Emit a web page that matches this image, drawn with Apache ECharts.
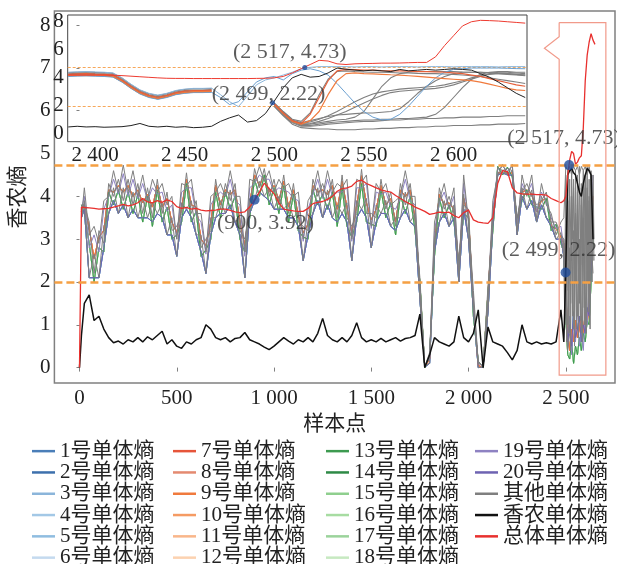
<!DOCTYPE html>
<html><head><meta charset="utf-8">
<script src="https://cdn.jsdelivr.net/npm/echarts@6/dist/echarts.min.js"></script>
<style>html,body{margin:0;padding:0;background:#fff}#c{width:617px;height:564px}</style>
</head><body><div id="c"></div>
<script>
// ---------------- main chart data ----------------
const mainX = [0,10,25,50,75,100,125,150,175,200,225,250,275,300,325,350,375,400,425,450,475,500,525,550,575,600,625,650,675,700,725,750,775,800,825,850,875,900,925,950,975,1000,1025,1050,1075,1100,1125,1150,1175,1200,1225,1250,1275,1300,1325,1350,1375,1400,1425,1450,1475,1500,1525,1550,1575,1600,1625,1650,1675,1700,1725,1750,1775,1800,1825,1850,1875,1900,1925,1950,1975,2000,2025,2050,2075,2100,2125,2150,2175,2200,2225,2250,2275,2300,2325,2350,2375,2400,2425,2450,2475,2490,2500,2510,2520,2530,2540,2550,2560,2570,2580,2590,2600,2610,2620,2630,2640,2650];

const bandGray1 = [null,
3.5,4.2,3.1,3.3,2.9,3.9,4.0,4.6,4.1,4.73,
4.1,4.6,4.0,4.5,3.9,4.4,4.1,4.3,3.8,4.0,
3.0,4.3,4.25,4.4,3.6,3.6,2.7,4.0,4.1,4.3,
4.0,4.6,4.0,4.0,2.7,4.4,4.35,4.7,4.35,4.6,
4.1,4.4,4.2,4.3,4.0,4.1,3.0,3.9,4.1,4.6,
4.0,4.6,4.1,4.3,4.2,4.4,3.0,4.4,4.33,4.5,
3.3,4.3,4.1,4.3,3.8,3.9,4.0,4.6,4.0,4.0,
1.8,0.05,0.2,3.4,3.9,4.3,3.7,4.2,2.2,4.5,
3.4,1.8,0.1,0.05,1.6,3.9,4.5,4.75,4.5,4.75,
3.2,4.5,4.0,4.5,3.5,4.3,3.8,3.6,3.1,3.4,
3.5,4.7,4.6,4.7,4.5,4.7,4.6,4.7,4.5,4.7,4.6,4.7,4.5,4.7,4.4,3.5,null];

const bandGray2 = [null,
3.8,3.8,3.4,2.2,3.2,2.9,4.3,4.0,4.4,3.9,
4.4,3.8,4.3,3.6,4.2,3.5,4.4,3.6,4.1,3.2,
3.3,3.6,4.55,3.6,3.9,2.8,3.0,3.2,4.4,3.7,
4.3,3.9,4.3,3.2,3.0,3.7,4.65,4.2,4.65,4.0,
4.4,3.8,4.5,3.6,4.3,3.4,3.3,3.2,4.4,4.0,
4.3,3.9,4.4,3.5,4.5,3.5,3.3,3.6,4.63,3.6,
3.6,3.5,4.4,3.7,4.1,3.3,4.3,3.8,4.3,3.4,
2.1,0.02,0.35,2.8,4.2,3.7,4.0,3.6,2.5,3.8,
3.7,1.4,0.15,0.02,1.9,3.4,4.68,4.6,4.65,4.6,
3.5,4.1,4.3,4.0,3.8,3.9,4.1,3.4,3.4,3.1,
3.0,2.0,1.0,4.0,2.5,4.4,2.0,3.8,1.5,4.2,2.8,4.5,2.0,4.0,3.0,2.2,null];

const bandGray3 = [null,
3.5,3.9,2.1,2.65,2.1,3.3,3.6,4.2,3.6,4.2,
3.5,4.1,3.5,3.95,3.5,3.85,3.6,3.85,3.1,3.5,
2.6,3.85,3.7,3.9,3.1,3.1,2.2,3.5,3.5,3.9,
3.6,4.15,3.4,3.5,2.1,3.95,3.9,4.35,4.0,4.2,
3.7,4.0,3.7,3.85,3.5,3.65,2.5,3.45,3.6,4.2,
3.5,4.15,3.5,3.8,3.6,3.85,2.5,3.9,3.7,3.95,
2.8,3.8,3.6,3.9,3.3,3.5,3.5,4.1,3.4,3.6,
1.6,0.02,0.1,3.0,3.4,3.9,3.3,3.8,2.0,4.05,
3.0,1.5,0.0,0.02,1.3,3.55,4.5,4.62,4.5,4.6,
3.1,4.2,3.7,4.15,3.4,4.0,3.5,3.4,3.0,3.15,
2.6,1.2,0.4,0.8,3.3,0.9,3.6,1.2,3.0,0.8,3.5,1.0,4.2,1.5,4.5,2.5,null];

const bandPurple = [null,
3.7,4.0,2.8,3.1,2.7,3.7,4.0,4.4,4.05,4.53,
4.0,4.4,3.95,4.3,3.9,4.2,4.05,4.1,3.65,3.8,
3.0,4.1,4.2,4.2,3.55,3.4,2.65,3.8,4.0,4.1,
4.0,4.4,3.9,3.8,2.6,4.2,4.3,4.5,4.4,4.4,
4.1,4.2,4.15,4.1,3.95,3.9,2.95,3.7,4.05,4.4,
3.95,4.4,4.0,4.1,4.1,4.2,2.95,4.2,4.2,4.3,
3.25,4.1,4.05,4.1,3.75,3.7,3.95,4.4,3.9,3.8,
1.9,0.03,0.25,3.2,3.85,4.1,3.7,4.0,2.3,4.3,
3.4,1.6,0.1,0.03,1.65,3.7,4.62,4.7,4.6,4.7,
3.35,4.3,4.05,4.3,3.65,4.1,3.85,3.5,3.25,3.3,
2.8,1.5,0.5,1.2,0.3,1.0,0.6,1.4,0.5,0.9,0.4,1.2,1.0,2.0,3.5,4.5,null];

const bandGreen = [null,
3.8,3.6,2.9,2.0,2.8,2.7,4.1,3.8,4.15,3.7,
4.1,3.6,4.05,3.4,4.0,3.3,4.15,3.4,3.75,3.0,
3.1,3.4,4.3,3.4,3.65,2.6,2.75,3.0,4.1,3.5,
4.1,3.7,4.0,3.0,2.7,3.5,4.4,4.0,4.5,3.8,
4.2,3.6,4.25,3.4,4.05,3.2,3.05,3.0,4.15,3.8,
4.05,3.7,4.1,3.3,4.2,3.3,3.05,3.4,4.3,3.4,
3.35,3.3,4.15,3.5,3.85,3.1,4.05,3.6,4.0,3.2,
2.0,0.0,0.3,2.6,3.95,3.5,3.8,3.4,2.4,3.6,
3.5,1.2,0.15,0.0,1.75,3.2,4.7,4.5,4.68,4.45,
3.45,3.9,4.15,3.8,3.75,3.7,3.95,3.2,3.35,2.9,
2.7,1.2,0.3,0.2,0.6,0.1,0.5,0.3,0.7,0.4,0.8,0.6,1.1,1.0,2.0,3.0,null];

const bandOrange = [null,
3.65,3.8,3.25,2.55,3.05,3.2,4.15,4.1,4.25,4.1,
4.25,4.0,4.15,3.85,4.05,3.75,4.25,3.75,3.95,3.4,
3.15,3.75,4.4,3.8,3.75,3.0,2.85,3.4,4.25,3.8,
4.15,4.05,4.15,3.4,2.85,3.85,4.5,4.25,4.5,4.1,
4.25,3.9,4.35,3.75,4.15,3.55,3.15,3.35,4.25,4.1,
4.15,4.05,4.25,3.7,4.35,3.75,3.15,3.8,4.48,3.85,
3.45,3.7,4.25,3.8,3.95,3.4,4.15,4.0,4.15,3.5,
1.95,0.0,0.2,2.9,4.05,3.8,3.85,3.7,2.35,3.95,
3.55,1.4,0.05,0.0,1.75,3.45,4.55,4.55,4.55,4.55,
3.4,4.1,4.15,4.05,3.65,3.9,3.95,3.3,3.25,3.05,
2.9,1.8,0.8,0.4,0.9,0.6,1.1,0.7,0.9,1.2,0.8,1.3,1.0,1.5,2.6,4.0,null];

const bandBlue = [null,
3.5,3.7,2.1,2.1,2.1,2.8,3.6,3.9,3.6,3.8,
3.5,3.7,3.5,3.5,3.5,3.4,3.6,3.5,3.1,3.1,
2.6,3.5,3.7,3.5,3.1,2.7,2.2,3.1,3.5,3.6,
3.6,3.8,3.4,3.1,2.1,3.6,3.9,4.1,4.0,3.9,
3.7,3.7,3.7,3.5,3.5,3.3,2.5,3.1,3.6,3.9,
3.5,3.8,3.5,3.4,3.6,3.4,2.5,3.5,3.7,3.5,
2.8,3.4,3.6,3.6,3.3,3.2,3.5,3.7,3.4,3.3,
1.6,0.01,0.1,2.7,3.4,3.6,3.3,3.5,2.0,3.7,
3.0,1.3,0.0,0.01,1.3,3.3,4.5,4.55,4.5,4.5,
3.1,4.0,3.7,3.9,3.4,3.8,3.5,3.3,3.0,3.0,
2.6,1.4,0.6,1.0,0.5,1.3,0.7,0.9,1.2,0.6,1.0,0.8,1.4,1.2,2.2,3.2,null];

const shannonMain = [
0.0,0.75,1.5,1.7,1.1,1.2,0.9,0.7,0.58,0.62,
0.55,0.65,0.6,0.7,0.6,0.72,0.65,0.75,0.85,0.55,
0.65,0.5,0.45,0.6,0.55,0.65,0.7,1.0,0.9,0.7,
0.65,0.7,0.6,0.68,0.7,0.82,0.65,0.6,0.55,0.48,
0.42,0.5,0.6,0.7,0.62,0.55,0.65,0.6,0.7,0.6,
0.8,1.15,0.75,0.65,0.6,0.7,0.6,0.75,1.05,0.7,
0.6,0.65,0.6,0.68,0.6,0.65,0.7,0.62,0.68,0.7,
0.75,1.25,0.0,0.3,0.7,0.6,0.55,0.5,0.6,1.2,
0.7,0.6,0.8,1.35,0.0,0.95,0.6,0.55,0.5,0.35,
0.18,0.4,1.0,0.6,0.55,0.6,0.55,0.58,0.55,0.6,
1.35,0.6,2.3,4.5,4.6,4.65,4.55,4.5,4.3,4.1,
4.0,4.3,4.5,4.65,4.6,4.5,3.0,null];

const totalMain = [
0,3.75,3.74,3.73,3.72,3.7,3.71,3.72,3.75,3.78,
3.81,3.78,3.8,3.85,3.95,3.87,3.85,3.9,3.86,3.92,
3.88,3.76,3.72,3.74,3.7,3.72,3.68,3.66,3.67,3.68,
3.7,3.7,3.67,3.64,3.62,3.64,3.75,3.92,4.1,4.31,
4.18,4.06,3.85,3.7,3.68,3.66,3.65,3.65,3.72,3.83,
3.86,3.88,3.93,4.0,4.12,4.18,4.2,4.24,4.35,4.38,
4.3,4.25,4.2,4.15,4.12,4.1,4.02,3.95,3.88,3.82,
3.75,3.7,3.65,3.58,3.6,3.63,3.62,3.63,3.55,3.5,
3.62,3.68,3.45,3.4,3.38,3.37,3.5,4.3,4.6,4.58,
4.2,4.08,4.06,4.05,4.05,4.04,4.04,4.03,3.95,3.9,
3.85,3.9,4.0,4.5,4.85,5.05,5.0,4.75,4.8,4.9,
4.95,5.6,6.7,7.3,7.6,7.8,7.65,7.55];

const calloutX = [2490,2495,2500,2505,2510,2515,2520,2525,2530,2535,2540,2545,2550,2555,2560,2565,2570,2575,2580,2585,2590,2595,2600,2605,2610,2615,2620,2625,2630,2635,2640,2645,2650];
const calloutGrayA = [3.0,2.2,4.5,1.8,4.6,2.5,4.4,1.5,4.7,3.0,4.2,1.2,4.6,2.0,4.5,2.8,4.7,1.6,4.3,2.4,4.6,1.4,4.5,3.2,4.7,2.0,4.4,1.8,4.6,2.6,4.5,3.0,null];
const calloutGrayB = [2.5,1.0,3.5,0.6,3.9,0.8,2.8,0.4,4.0,1.2,3.2,0.5,3.6,0.9,4.1,0.7,3.0,1.1,3.8,0.6,3.4,1.0,4.2,0.8,3.6,1.3,3.9,0.9,4.3,2.0,3.8,2.5,null];

const markX = [900, 2517, 2499];
const markY = [3.92, 4.73, 2.22];
const thresholds = [4.73, 2.0];

const xTicksMain = [0,500,1000,1500,2000,2500];
const yTicksMain = [0,1,2,3,4,5,6,7,8];

// ---------------- inset data ----------------
const insetX = [2385,2390,2395,2400,2405,2410,2415,2420,2425,2430,2435,2440,2445,2450,2455,2460,2465,2470,2475,2480,2485,2490,2495,2500,2505,2510,2515,2520,2525,2530,2535,2540,2545,2550,2555,2560,2565,2570,2575,2580,2585,2590,2595,2600,2605,2610,2615,2620,2625,2630,2635,2640];
const iG1 = [4.37,4.4,4.42,4.39,4.37,4.32,3.97,3.52,3.12,2.87,2.74,2.87,3.07,3.17,3.22,3.22,3.24,null,null,null,null,null,null,
2.2,1.6,1.05,0.9,1.5,2.8,3.9,4.45,4.5,4.45,4.42,4.4,4.4,4.38,4.35,4.35,4.32,4.3,4.3,4.28,4.25,4.2,4.15,4.1,4.0,3.9,3.8,3.7,3.6];
const iG2 = [4.29,4.32,4.34,4.31,4.29,4.24,3.89,3.44,3.04,2.79,2.66,2.79,2.99,3.09,3.14,3.14,3.16,null,null,null,null,null,null,
2.15,1.5,0.95,0.75,0.85,1.05,1.3,1.6,1.95,2.3,2.6,2.85,3.0,3.1,3.2,3.25,3.3,3.35,3.4,3.5,3.65,3.8,4.0,4.15,4.25,4.3,4.3,4.25,4.2];
const iG3 = [4.21,4.24,4.26,4.23,4.21,4.16,3.81,3.36,2.96,2.71,2.58,2.71,2.91,3.01,3.06,3.06,3.08,null,null,null,null,null,null,
2.1,1.45,0.9,0.7,0.75,0.9,1.1,1.35,1.6,1.9,2.2,2.5,2.75,2.95,3.05,3.1,3.15,3.2,3.25,3.35,3.5,3.7,3.9,4.1,4.3,4.4,4.4,4.35,4.3];
const iG4 = [4.13,4.16,4.18,4.15,4.13,4.08,3.73,3.28,2.88,2.63,2.5,2.63,2.83,2.93,2.98,2.98,3.0,null,null,null,null,null,null,
2.05,1.4,0.85,0.65,0.7,0.8,0.9,1.0,1.05,1.2,1.6,2.5,3.4,4.0,4.3,4.4,4.45,4.45,4.45,4.45,4.45,4.42,4.4,4.4,4.38,4.35,4.3,4.25,4.2];
const iG5 = [null,null,null,null,null,null,null,null,null,null,null,null,null,null,null,null,null,null,null,null,null,null,null,
2.1,1.45,0.9,0.6,0.6,0.7,0.8,0.85,0.9,0.95,1.0,1.0,1.05,1.05,1.1,1.1,1.15,1.2,1.4,1.9,2.6,3.3,3.9,4.25,4.4,4.45,4.45,4.4,4.4];
const iG6 = [null,null,null,null,null,null,null,null,null,null,null,null,null,null,null,null,null,null,null,null,null,null,null,
2.0,1.35,0.8,0.55,0.55,0.6,0.7,0.75,0.8,0.85,0.9,0.9,0.95,1.0,1.0,1.05,1.05,1.1,1.1,1.15,1.15,1.2,1.2,1.2,1.25,1.25,1.3,1.3,1.3];
const iG7 = [null,null,null,null,null,null,null,null,null,null,null,null,null,null,null,null,null,null,null,null,null,null,null,
1.95,1.3,0.7,0.45,0.4,0.35,0.35,0.3,0.3,0.3,0.35,0.35,0.4,0.4,0.45,0.45,0.5,0.5,0.55,0.55,0.6,0.6,0.6,0.65,0.65,0.7,0.7,0.7,0.75];
const iG8 = [null,null,null,null,null,null,null,null,null,null,null,null,null,null,null,null,null,null,null,null,null,null,null,
2.2,1.55,1.0,0.8,0.95,1.1,1.25,1.35,1.4,1.45,1.5,1.5,1.55,1.6,1.8,2.3,2.9,3.4,3.8,4.1,4.3,4.4,4.4,4.4,4.35,4.3,4.25,4.2,4.15];
const iO1 = [4.25,4.28,4.3,4.27,4.25,4.2,3.85,3.4,3.0,2.75,2.62,2.75,2.95,3.05,3.1,3.1,3.12,null,null,null,null,null,null,
2.15,1.5,0.95,0.75,1.4,2.6,3.8,4.5,4.6,4.58,4.55,4.55,4.52,4.5,4.5,4.48,4.45,4.45,4.42,4.4,4.35,4.3,4.2,4.1,3.95,3.8,3.65,3.5,3.4];
const iO2 = [4.17,4.2,4.22,4.19,4.17,4.12,3.77,3.32,2.92,2.67,2.54,2.67,2.87,2.97,3.02,3.02,3.04,null,null,null,null,null,null,
2.1,1.45,0.9,0.7,0.95,1.6,2.8,3.8,4.3,4.35,4.3,4.28,4.25,4.22,4.2,4.15,4.1,4.05,4.0,3.95,3.9,3.85,3.8,3.7,3.55,3.4,3.25,3.15,3.1];
const iB1 = [4.4,4.43,4.45,4.42,4.4,4.35,4.0,3.55,3.15,2.9,2.77,2.9,3.1,3.2,3.25,3.25,3.27,2.8,2.3,1.95,2.7,3.5,3.85,
4.0,4.2,4.4,4.65,4.75,4.8,4.8,4.8,4.8,4.78,4.8,4.8,4.78,4.8,4.8,4.8,4.78,4.8,4.8,4.8,4.78,4.8,4.8,4.8,4.8,4.78,4.8,4.8,4.8];
const iB2 = [4.1,4.13,4.15,4.12,4.1,4.05,3.7,3.25,2.85,2.6,2.47,2.6,2.8,2.9,2.95,2.95,2.97,2.6,2.1,2.3,3.0,3.7,4.0,
4.1,3.85,4.3,4.55,4.65,4.5,4.2,3.6,2.9,2.2,1.6,1.2,1.0,1.05,1.4,2.0,2.7,3.4,4.0,4.4,4.6,4.65,4.7,4.7,4.7,4.7,4.68,4.66,4.65];
const iShannon = [0.5,0.55,0.5,0.52,0.48,0.5,0.52,0.6,0.75,0.55,0.5,0.55,0.48,0.52,0.45,0.48,0.55,0.9,1.15,1.35,0.85,0.95,1.45,
2.35,3.3,4.0,4.25,4.05,4.1,4.35,4.7,4.62,4.55,4.5,4.55,4.5,4.45,4.6,4.5,4.55,4.6,4.55,4.6,4.65,4.6,4.55,4.3,4.05,3.7,3.3,2.9,2.6];
const iTotal = [4.2,4.2,4.2,4.2,4.2,4.19,4.16,4.12,4.08,4.04,4.0,3.97,3.96,3.96,3.95,3.95,3.95,3.95,3.95,3.95,3.95,3.96,3.97,
4.0,4.1,4.35,4.65,4.95,5.25,5.2,5.0,4.95,5.0,5.02,5.03,5.05,5.05,5.06,5.08,5.1,5.1,5.5,6.3,7.0,7.7,8.0,8.1,8.08,8.05,8.0,7.95,7.9];
const insetMarkX = [2517, 2499];
const insetMarkY = [4.73, 2.22];
const xTicksInset = [2400,2450,2500,2550,2600];
const yTicksInset = [0,2,4,6,8];

// names
const numNames = ['1号单体熵','2号单体熵','3号单体熵','4号单体熵','5号单体熵','6号单体熵','7号单体熵','8号单体熵','9号单体熵','10号单体熵','11号单体熵','12号单体熵','13号单体熵','14号单体熵','15号单体熵','16号单体熵','17号单体熵','18号单体熵','19号单体熵','20号单体熵'];
const otherName = '其他单体熵', shName = '香农单体熵', totName = '总体单体熵';

// ---------------- styles ----------------
const FONT = "'Liberation Serif','Noto Sans CJK SC',serif";
const numColors = ['#4a7eb8','#3d70ad','#8bb5da','#a3c8e6','#8fbde0','#c4daef','#e6553a','#e48a70','#f07a3d','#f59b63','#f9b68a','#fcd2b0','#3d9a50','#2e8a46','#8fcf8e','#a7dca2','#9bd39b','#c7e9c1','#8e82c2','#6e63b2'];
const colorOf = {};
numNames.forEach((n,i)=>colorOf[n]=numColors[i]);
colorOf[otherName] = '#7f7f7f'; colorOf[shName] = '#111111'; colorOf[totName] = '#e8302e';

function fmtNum(v){ v = Math.round(v); return Math.abs(v) >= 1000 ? Math.floor(v/1000) + ' ' + String(v%1000).padStart(3,'0') : String(v); }
function pairs(xs, ys){ return xs.map((x,i)=>[x, ys[i]==null ? '-' : ys[i]]); }
function lineS(name, xs, ys, color, width, ax, z){
  return {type:'line', name, data:pairs(xs,ys), xAxisIndex:ax, yAxisIndex:ax, showSymbol:false, symbol:'none',
    lineStyle:{color, width}, itemStyle:{color}, z:z||2, silent:true, connectNulls:false};
}
function bandFor(n){ if(n<=6) return bandBlue; if(n<=12) return bandOrange; if(n<=18) return bandGreen; if(n===19) return bandPurple; return bandBlue; }

const series = [];
const drawOrder = [2,3,4,5,6,1, 8,10,11,12,7,9, 14,15,16,17,18,13, 19, 20];
drawOrder.forEach(n=>{ const nm = numNames[n-1]; series.push(lineS(nm, mainX, bandFor(n), colorOf[nm], 1, 0, 2)); });
[bandGray1, bandGray2, bandGray3].forEach(a=>series.push(lineS(otherName, mainX, a, colorOf[otherName], 1, 0, 2)));
[calloutGrayA, calloutGrayB].forEach(a=>series.push(lineS(otherName, calloutX, a, colorOf[otherName], 1, 0, 2)));
const shMain = lineS(shName, mainX, shannonMain, colorOf[shName], 1.5, 0, 3);
shMain.markLine = {silent:true, symbol:['none','none'], label:{show:false}, lineStyle:{color:'#f5a043', width:2.5, type:[8,4]}, data: thresholds.map(v=>({yAxis:v}))};
series.push(shMain);
series.push(lineS(totName, mainX, totalMain, colorOf[totName], 1.3, 0, 4));

const mainLabelOffsets = [[11,23],[-5,-27],[-7,-22]];
series.push({type:'scatter', xAxisIndex:0, yAxisIndex:0, symbolSize:10, z:20, silent:true,
  itemStyle:{color:'#1f4e9c'},
  label:{show:true, position:'inside', fontSize:22, fontFamily:FONT, color:'#333',
    formatter:p=>'(' + fmtNum(p.value[0]) + ', ' + p.value[1].toFixed(2) + ')'},
  data: markX.map((x,i)=>({value:[x, markY[i]], label:{offset:mainLabelOffsets[i]}}))});

// inset series
[iG1,iG2,iG3,iG4,iG5,iG6,iG7,iG8].forEach(a=>series.push(lineS(otherName, insetX, a, colorOf[otherName], 1.1, 1, 6)));
series.push(lineS(numNames[2], insetX, iB1, '#8bb5da', 1, 1, 7));
series.push(lineS(numNames[0], insetX, iB2, '#6a9fd0', 1, 1, 7));
series.push(lineS(numNames[8], insetX, iO2, '#f07a3d', 1.2, 1, 7));
series.push(lineS(numNames[6], insetX, iO1, '#e6603a', 1.2, 1, 7));
const shInset = lineS(shName, insetX, iShannon, '#222', 1, 1, 8);
shInset.markLine = {silent:true, symbol:['none','none'], label:{show:false}, lineStyle:{color:'#f7a85a', width:1, type:[3,2]}, data: thresholds.map(v=>({yAxis:v}))};
series.push(shInset);
series.push(lineS(totName, insetX, iTotal, '#ee3b30', 1, 1, 9));
const insetLabelOffsets = [[-15,-15],[-4,-9]];
series.push({type:'scatter', xAxisIndex:1, yAxisIndex:1, symbolSize:5, z:21, silent:true,
  itemStyle:{color:'#1f4e9c'},
  label:{show:true, position:'inside', fontSize:22, fontFamily:FONT, color:'#333',
    formatter:p=>'(' + fmtNum(p.value[0]) + ', ' + p.value[1].toFixed(2) + ')'},
  data: insetMarkX.map((x,i)=>({value:[x, insetMarkY[i]], label:{offset:insetLabelOffsets[i]}}))});

// legend
const legendCols = [numNames.slice(0,6), numNames.slice(6,12), numNames.slice(12,18), [numNames[18], numNames[19], otherName, shName, totName]];
const legendLeft = [32, 173, 326, 475];
const legends = legendCols.map((names,ci)=>({
  orient:'vertical', left:legendLeft[ci], top:440.5, height:200, padding:0, itemGap:0, itemWidth:23, itemHeight:2.5, icon:'rect', selectedMode:false,
  textStyle:{fontSize:21, lineHeight:21.3, fontFamily:FONT, color:'#222'},
  data: names.map(n=>({name:n, itemStyle:{color:colorOf[n]}}))
}));

const axisLabelStyle = {fontSize:21, fontFamily:FONT, color:'#222'};
const option = {
  animation:false,
  backgroundColor:'#fff',
  legend: legends,
  grid:[
    {left:45, top:11, width:570, height:372, show:true, borderColor:'#808080', borderWidth:1.5, backgroundColor:'transparent'},
    {left:67.7, top:15, width:459.3, height:126.7, show:true, borderColor:'#444', borderWidth:1, backgroundColor:'#fff'}
  ],
  xAxis:[
    {type:'value', gridIndex:0, min:-129, max:2753, axisLine:{show:false}, splitLine:{show:false},
     axisTick:{show:true, customValues:xTicksMain, length:4, lineStyle:{color:'#808080'}},
     axisLabel:Object.assign({customValues:xTicksMain, formatter:fmtNum, margin:5}, axisLabelStyle),
     name:'样本点', nameLocation:'middle', nameGap:26, nameTextStyle:{fontSize:21, fontFamily:FONT, color:'#222'}},
    {type:'value', gridIndex:1, min:2384.7, max:2641, axisLine:{show:false}, splitLine:{show:false},
     axisTick:{show:false},
     axisLabel:Object.assign({customValues:xTicksInset, formatter:fmtNum, margin:3}, axisLabelStyle)}
  ],
  yAxis:[
    {type:'value', gridIndex:0, min:-0.36, max:8.33, axisLine:{show:false}, splitLine:{show:false},
     axisTick:{show:true, customValues:yTicksMain, length:3, lineStyle:{color:'#808080'}},
     axisLabel:Object.assign({customValues:yTicksMain, margin:4}, axisLabelStyle),
     name:'香农熵', nameLocation:'middle', nameRotate:90, nameGap:12, nameTextStyle:{fontSize:21, fontFamily:FONT, color:'#222'}},
    {type:'value', gridIndex:1, min:-0.55, max:8.48, axisLine:{show:false}, splitLine:{show:false},
     axisTick:{show:false},
     axisLabel:Object.assign({customValues:yTicksInset, margin:4}, axisLabelStyle)}
  ],
  series
};
const chart = echarts.init(document.getElementById('c'));
chart.setOption(option);

// zoom callout box (annotation) in data coordinates of the main grid
const callout = {left:2466, right:2706, top:8.06, bottom:-0.175, notchUpper:7.73, notchLower:7.2, tipX:2390, tipY:7.46};
const P = (x,y)=>chart.convertToPixel({xAxisIndex:0, yAxisIndex:0}, [x,y]);
const pts = [P(callout.left,callout.top), P(callout.right,callout.top), P(callout.right,callout.bottom), P(callout.left,callout.bottom),
  P(callout.left,callout.notchLower), P(callout.tipX,callout.tipY), P(callout.left,callout.notchUpper), P(callout.left,callout.top)];
chart.setOption({graphic:[{type:'polyline', shape:{points:pts}, style:{stroke:'#f19a8a', lineWidth:1.2, fill:null}, z:100, silent:true}]});
</script>
</body></html>
